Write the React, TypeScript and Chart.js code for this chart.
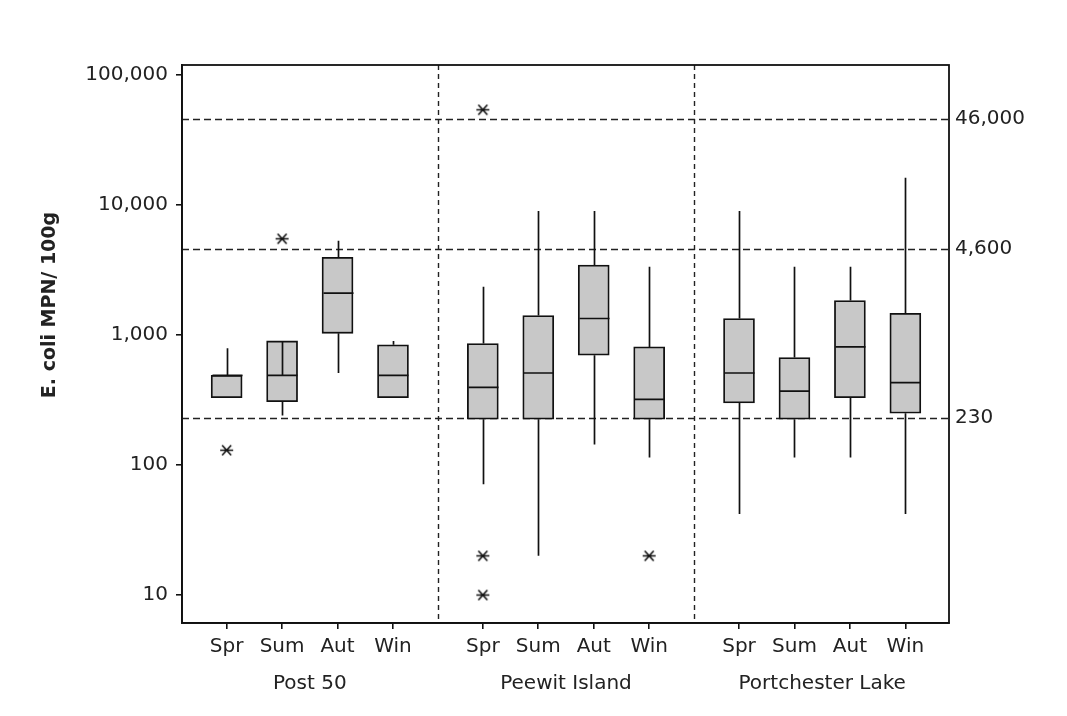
import React, { useEffect, useRef } from "react";
import { Chart, registerables } from "chart.js";

Chart.register(...registerables);

// Sampling sites and seasons (each site has one box per season)
const SITES = ["Post 50", "Peewit Island", "Portchester Lake"];
const SEASONS = ["Spr", "Sum", "Aut", "Win"];

// Box-plot statistics, E. coli MPN / 100 g, ordered site by site, season by season
const WHISKER_LOW = [330, 240, 510, 330, 71, 20, 144, 114, 42, 114, 114, 42];
const Q1 = [330, 307, 1030, 330, 225, 225, 700, 225, 300, 225, 330, 250];
const MEDIAN = [490, 490, 2100, 490, 395, 510, 1340, 320, 510, 370, 810, 430];
const Q3 = [490, 900, 3960, 840, 860, 1410, 3450, 810, 1340, 670, 1840, 1470];
const WHISKER_HIGH = [790, 900, 5300, 900, 2350, 9000, 9000, 3350, 9000, 3350, 3350, 16200];
// Boxes whose stem is drawn through the upper half of the box
const STEM_THROUGH_BOX = [false, true, false, false, false, false, false, false, false, false, false, false];
// Outlying samples per box
const OUTLIERS: number[][] = [[130], [5500], [], [], [54000, 20, 10], [], [], [20], [], [], [], []];

// Classification thresholds shown as dashed reference lines
const REFERENCE_LEVELS = [46000, 4600, 230];
const Y_TICKS = [10, 100, 1000, 10000, 100000];
const Y_TITLE = "E. coli MPN/ 100g";

const Y_MIN = 6.09;
const Y_MAX = 119400;
const GROUP_STRIDE = 4.62;
const X_MIN = -0.805;
const X_MAX = 2 * GROUP_STRIDE + 3 + 0.787;

const FONT = "'DejaVu Sans', sans-serif";
const TEXT_COLOR = "#222";
const INK = "#111";

const positions = SITES.flatMap((_, g) => SEASONS.map((_, s) => g * GROUP_STRIDE + s));

function makeAsterisk(): HTMLCanvasElement {
  const c = document.createElement("canvas");
  c.width = 15;
  c.height = 15;
  const ctx = c.getContext("2d")!;
  ctx.strokeStyle = INK;
  ctx.lineWidth = 1.6;
  ctx.beginPath();
  ctx.moveTo(1, 7.5);
  ctx.lineTo(14, 7.5);
  ctx.moveTo(3, 2.5);
  ctx.lineTo(12, 12.5);
  ctx.moveTo(12, 2.5);
  ctx.lineTo(3, 12.5);
  ctx.stroke();
  return c;
}

const boxDecor = {
  id: "boxDecor",
  beforeDatasetsDraw(chart: any) {
    const { ctx, chartArea: a, scales } = chart;
    const xs = scales.x;
    const ys = scales.y;
    ctx.save();
    ctx.strokeStyle = "#222";
    ctx.lineWidth = 1.4;
    // horizontal thresholds
    ctx.setLineDash([7, 4]);
    REFERENCE_LEVELS.forEach((v) => {
      const y = Math.round(ys.getPixelForValue(v)) + 0.5;
      ctx.beginPath();
      ctx.moveTo(a.left, y);
      ctx.lineTo(a.right, y);
      ctx.stroke();
    });
    // site separators
    ctx.setLineDash([5, 4]);
    for (let g = 0; g < SITES.length - 1; g++) {
      const xv = g * GROUP_STRIDE + 3 + (GROUP_STRIDE - 3) / 2;
      const x = Math.round(xs.getPixelForValue(xv)) + 0.5;
      ctx.beginPath();
      ctx.moveTo(x, a.top);
      ctx.lineTo(x, a.bottom);
      ctx.stroke();
    }
    ctx.restore();
  },
  afterDatasetsDraw(chart: any) {
    const { ctx, scales } = chart;
    const xs = scales.x;
    const ys = scales.y;
    ctx.save();
    ctx.strokeStyle = INK;
    ctx.lineWidth = 1.7;
    positions.forEach((p, i) => {
      const x = Math.round(xs.getPixelForValue(p)) + 0.5;
      const half = 15;
      const yq1 = ys.getPixelForValue(Q1[i]);
      const yq3 = ys.getPixelForValue(Q3[i]);
      const ymed = ys.getPixelForValue(MEDIAN[i]);
      ctx.beginPath();
      // whiskers
      ctx.moveTo(x, ys.getPixelForValue(WHISKER_HIGH[i]));
      ctx.lineTo(x, STEM_THROUGH_BOX[i] ? ymed : yq3);
      ctx.moveTo(x, yq1);
      ctx.lineTo(x, ys.getPixelForValue(WHISKER_LOW[i]));
      // median
      ctx.moveTo(x - half, ymed);
      ctx.lineTo(x + half, ymed);
      ctx.stroke();
    });
    ctx.restore();
  },
  afterDraw(chart: any) {
    const { ctx, chartArea: a, scales } = chart;
    const xs = scales.x;
    const ys = scales.y;
    ctx.save();
    // frame
    ctx.strokeStyle = INK;
    ctx.lineWidth = 1.8;
    ctx.strokeRect(a.left, a.top, a.right - a.left, a.bottom - a.top);
    // threshold labels on the right
    ctx.fillStyle = TEXT_COLOR;
    ctx.font = `20px ${FONT}`;
    ctx.textAlign = "left";
    ctx.textBaseline = "middle";
    REFERENCE_LEVELS.forEach((v) => {
      ctx.fillText(v.toLocaleString("en-US"), a.right + 6, ys.getPixelForValue(v));
    });
    // site labels
    ctx.textAlign = "center";
    SITES.forEach((s, g) => {
      const xv = g * GROUP_STRIDE + 1.5;
      ctx.fillText(s, xs.getPixelForValue(xv), 684);
    });
    // y-axis title
    ctx.font = `bold 19px ${FONT}`;
    ctx.translate(50, 305);
    ctx.rotate(-Math.PI / 2);
    ctx.fillText(Y_TITLE, 0, 0);
    ctx.restore();
  },
};

export default function App() {
  const ref = useRef<HTMLCanvasElement | null>(null);

  useEffect(() => {
    const canvas = ref.current;
    if (!canvas) return;
    const asterisk = makeAsterisk();
    const outlierPoints = OUTLIERS.flatMap((list, i) => list.map((v) => ({ x: positions[i], y: v })));

    const chart = new Chart(canvas, {
      type: "bar",
      data: {
        datasets: [
          {
            type: "bar",
            data: positions.map((x, i) => ({ x, y: [Q1[i], Q3[i]] })) as any,
            backgroundColor: "#c8c8c8",
            borderColor: INK,
            borderWidth: 1.8,
            borderSkipped: false,
            barThickness: 31,
          },
          {
            type: "scatter",
            data: outlierPoints as any,
            pointStyle: asterisk as any,
            pointRadius: 7,
          },
        ],
      },
      options: {
        animation: false,
        responsive: false,
        layout: { padding: { top: 65, right: 118, bottom: 0, left: 0 } },
        plugins: { legend: { display: false }, tooltip: { enabled: false } },
        scales: {
          x: {
            type: "linear",
            offset: false,
            min: X_MIN,
            max: X_MAX,
            afterBuildTicks: (s: any) => {
              s.ticks = positions.map((v) => ({ value: v }));
            },
            afterFit: (s: any) => {
              s.height = 93;
            },
            ticks: {
              autoSkip: false,
              maxRotation: 0,
              padding: 6,
              color: TEXT_COLOR,
              font: { family: FONT, size: 20 },
              callback: (_v: any, i: number) => SEASONS[i % SEASONS.length],
            },
            grid: {
              offset: false,
              drawOnChartArea: false,
              drawTicks: true,
              tickLength: 6,
              color: INK,
              lineWidth: 1.6,
            },
            border: { color: INK, width: 1.8 },
          },
          y: {
            type: "logarithmic",
            min: Y_MIN,
            max: Y_MAX,
            afterBuildTicks: (s: any) => {
              s.ticks = Y_TICKS.map((v) => ({ value: v }));
            },
            afterFit: (s: any) => {
              s.width = 182;
            },
            ticks: {
              padding: 8,
              color: TEXT_COLOR,
              font: { family: FONT, size: 20 },
              callback: (v: any) => Number(v).toLocaleString("en-US"),
            },
            grid: { drawOnChartArea: false, drawTicks: true, tickLength: 6, color: INK, lineWidth: 1.6 },
            border: { color: INK, width: 1.8 },
          },
        },
      },
      plugins: [boxDecor],
    });

    return () => chart.destroy();
  }, []);

  return (
    <div style={{ position: "absolute", left: 0, top: 0, width: 1067, height: 716, background: "#fff" }}>
      <canvas ref={ref} width={1067} height={716} style={{ display: "block" }} />
    </div>
  );
}
